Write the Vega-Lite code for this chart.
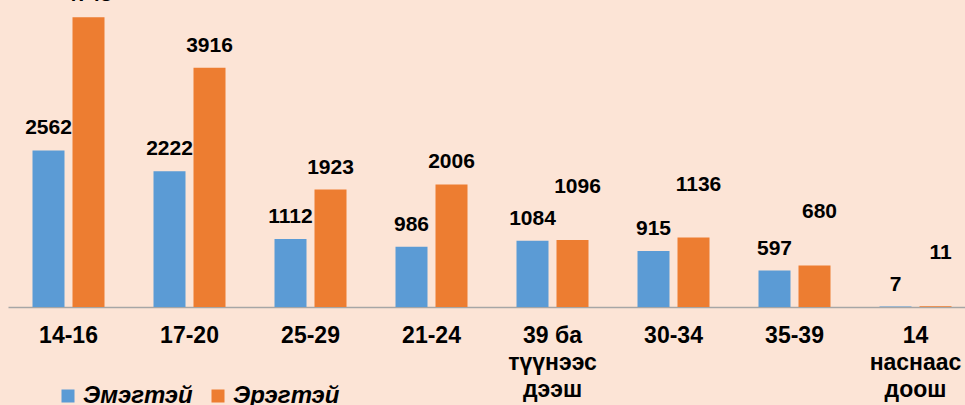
{
  "$schema": "https://vega.github.io/schema/vega-lite/v6.json",
  "width": 968,
  "height": 307,
  "autosize": {"type": "none"},
  "padding": {"left": 8, "top": 0, "right": 0, "bottom": 98},
  "background": "#FCE4D6",
  "config": {"view": {"stroke": null}, "font": "Liberation Sans"},
  "data": {
    "values": [
      {"age": "14-16", "sex": "Эмэгтэй", "value": 2562},
      {"age": "14-16", "sex": "Эрэгтэй", "value": 4743},
      {"age": "17-20", "sex": "Эмэгтэй", "value": 2222},
      {"age": "17-20", "sex": "Эрэгтэй", "value": 3916},
      {"age": "25-29", "sex": "Эмэгтэй", "value": 1112},
      {"age": "25-29", "sex": "Эрэгтэй", "value": 1923},
      {"age": "21-24", "sex": "Эмэгтэй", "value": 986},
      {"age": "21-24", "sex": "Эрэгтэй", "value": 2006},
      {"age": "39 ба|түүнээс|дээш", "sex": "Эмэгтэй", "value": 1084},
      {"age": "39 ба|түүнээс|дээш", "sex": "Эрэгтэй", "value": 1096},
      {"age": "30-34", "sex": "Эмэгтэй", "value": 915},
      {"age": "30-34", "sex": "Эрэгтэй", "value": 1136},
      {"age": "35-39", "sex": "Эмэгтэй", "value": 597},
      {"age": "35-39", "sex": "Эрэгтэй", "value": 680},
      {"age": "14|наснаас|доош", "sex": "Эмэгтэй", "value": 7},
      {"age": "14|наснаас|доош", "sex": "Эрэгтэй", "value": 11}
    ]
  },
  "encoding": {
    "x": {
      "field": "age",
      "type": "nominal",
      "sort": null,
      "scale": {"paddingInner": 0.405, "paddingOuter": 0.2025},
      "axis": {
        "title": null,
        "labelAngle": 0,
        "labelFontSize": 23,
        "labelFontWeight": "bold",
        "labelColor": "black",
        "labelExpr": "split(datum.label, '|')",
        "labelLineHeight": 27,
        "labelPadding": 17,
        "ticks": false,
        "domainColor": "#A6A6A6",
        "domainWidth": 1.5
      }
    },
    "xOffset": {"field": "sex", "type": "nominal", "sort": ["Эмэгтэй", "Эрэгтэй"], "scale": {"paddingInner": 0.2, "paddingOuter": 0}},
    "y": {"field": "value", "type": "quantitative", "scale": {"domain": [0, 5025]}, "axis": null}
  },
  "layer": [
    {
      "mark": {"type": "bar"},
      "encoding": {
        "color": {
          "field": "sex",
          "type": "nominal",
          "sort": ["Эмэгтэй", "Эрэгтэй"],
          "scale": {"domain": ["Эмэгтэй", "Эрэгтэй"], "range": ["#5B9BD5", "#ED7D31"]},
          "legend": {
            "orient": "none",
            "legendX": 48,
            "legendY": 384,
            "direction": "horizontal",
            "title": null,
            "symbolType": "square",
            "symbolSize": 169,
            "symbolStrokeWidth": 0,
            "labelFontSize": 24,
            "labelFontStyle": "italic",
            "labelFontWeight": "bold",
            "labelColor": "black",
            "labelOffset": 3,
            "columnPadding": 13
          }
        }
      }
    },
    {
      "transform": [{"filter": "datum.sex === 'Эмэгтэй' || indexof(['14-16','17-20','25-29','21-24'], datum.age) >= 0"}],
      "mark": {"type": "text", "dy": -22, "fontSize": 21, "fontWeight": "bold", "baseline": "middle", "color": "black"},
      "encoding": {"text": {"field": "value", "type": "quantitative"}}
    },
    {
      "transform": [{"filter": "datum.sex === 'Эрэгтэй' && indexof(['14-16','17-20','25-29','21-24'], datum.age) < 0"}],
      "mark": {"type": "text", "dy": -53, "dx": 5, "fontSize": 21, "fontWeight": "bold", "baseline": "middle", "color": "black"},
      "encoding": {"text": {"field": "value", "type": "quantitative"}}
    }
  ]
}
